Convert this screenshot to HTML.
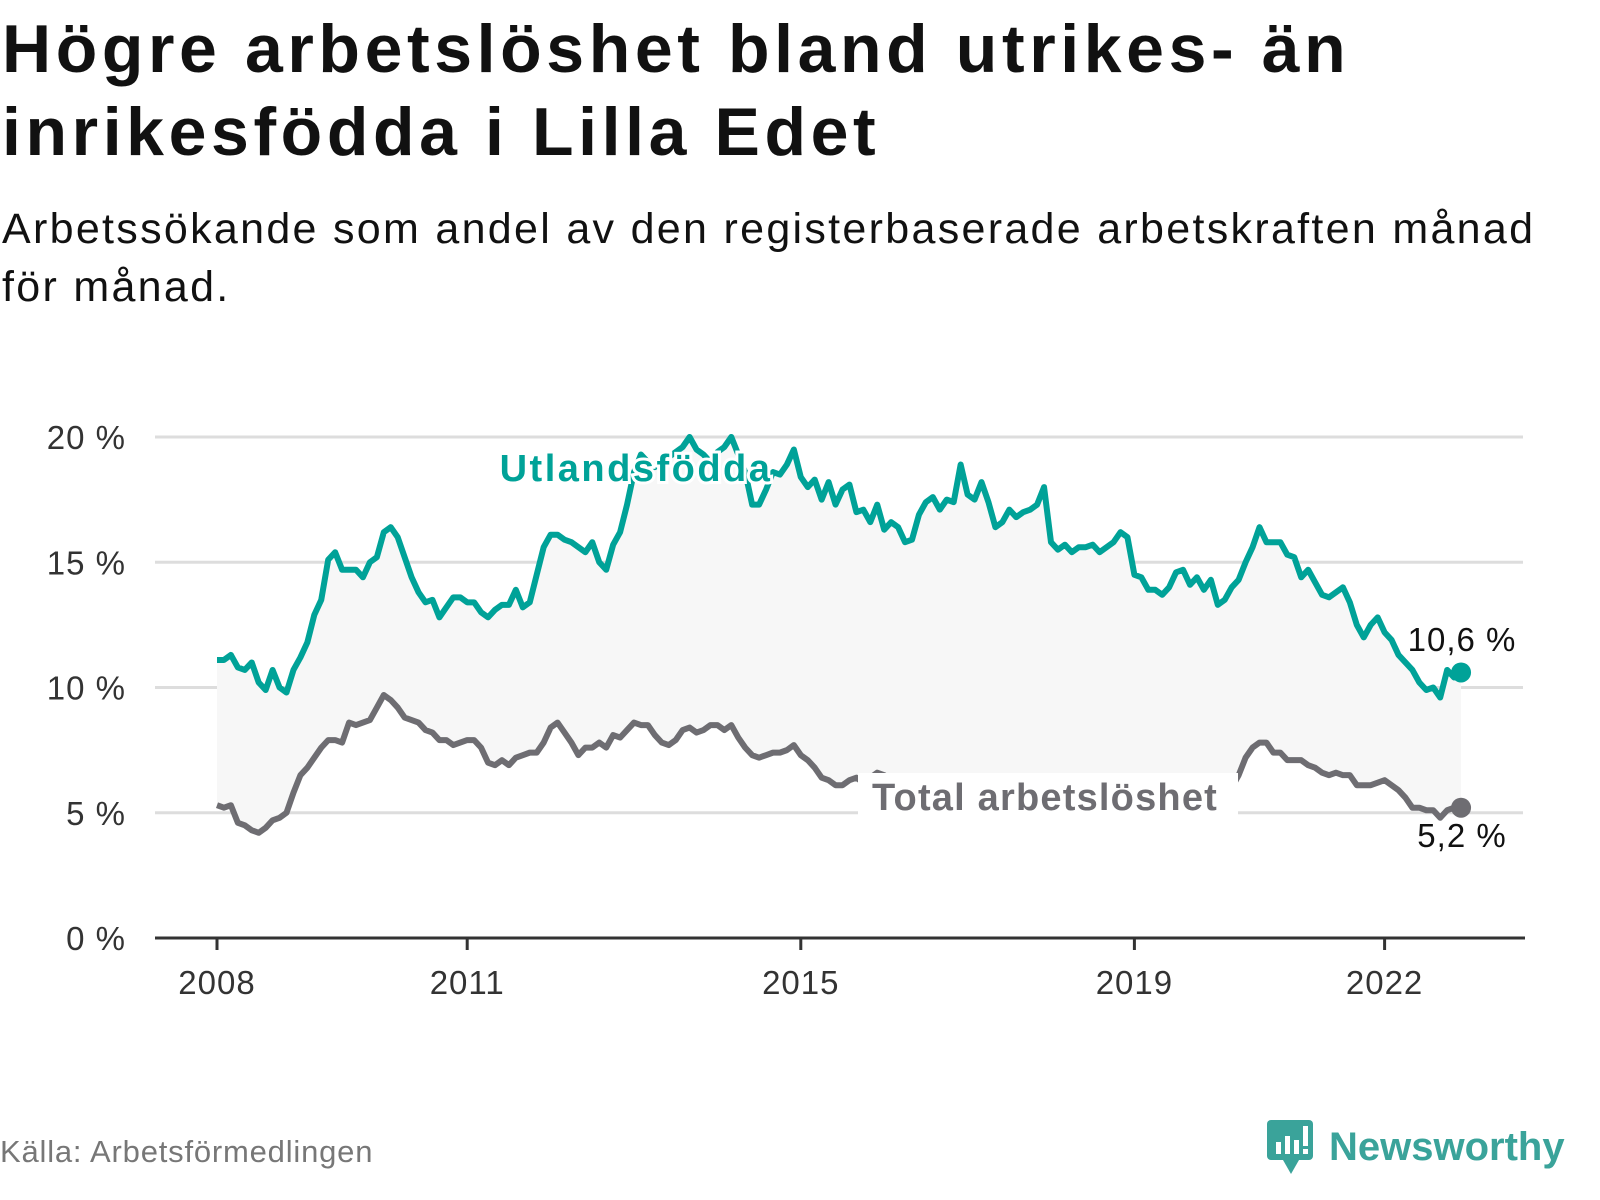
<!DOCTYPE html>
<html><head><meta charset="utf-8">
<style>
body{margin:0;background:#fff;width:1600px;height:1200px;overflow:hidden;font-family:"Liberation Sans",sans-serif;}
#title{position:absolute;left:2px;top:8px;width:1440px;margin:0;font-size:68px;line-height:83px;font-weight:bold;color:#111;letter-spacing:4.6px}
#sub{position:absolute;left:2px;top:200px;width:1560px;margin:0;font-size:43px;line-height:58px;color:#111;letter-spacing:2.3px}
#src{position:absolute;left:0;top:1134px;font-size:31px;color:#777;letter-spacing:0.8px}
#logo{position:absolute;left:1265px;top:1118px;display:flex;align-items:center}
</style></head><body>
<h1 id="title">Högre arbetslöshet bland utrikes- än inrikesfödda i Lilla Edet</h1>
<p id="sub">Arbetssökande som andel av den registerbaserade arbetskraften månad för månad.</p>
<svg id="chart" width="1600" height="1200" style="position:absolute;left:0;top:0"></svg>
<div id="src">Källa: Arbetsförmedlingen</div>
<div id="logo">
<svg width="52" height="58" viewBox="0 0 52 58"><rect x="2" y="2" width="46" height="40" rx="4" fill="#3aa39a"/><polygon points="18,42 34,42 26,56" fill="#3aa39a"/><rect x="11" y="24" width="5" height="12" fill="#fff"/><rect x="20" y="18" width="5" height="18" fill="#fff"/><rect x="29" y="22" width="5" height="14" fill="#fff"/><rect x="38" y="8" width="5" height="20" fill="#fff"/><rect x="38" y="31" width="5" height="5" fill="#fff"/></svg>
<span style="font-size:40px;font-weight:bold;color:#3aa39a;margin-left:12px">Newsworthy</span></div>
<script>
const yTicks=[0,5,10,15,20];
const xTickYears=[2008,2011,2015,2019,2022];
const startYear=2008;
const utland=[11.1,11.1,11.3,10.8,10.7,11.0,10.2,9.9,10.7,10.0,9.8,10.7,11.2,11.8,12.9,13.5,15.1,15.4,14.7,14.7,14.7,14.4,15.0,15.2,16.2,16.4,16.0,15.2,14.4,13.8,13.4,13.5,12.8,13.2,13.6,13.6,13.4,13.4,13.0,12.8,13.1,13.3,13.3,13.9,13.2,13.4,14.5,15.6,16.1,16.1,15.9,15.8,15.6,15.4,15.8,15.0,14.7,15.7,16.2,17.3,18.6,19.3,19.0,18.8,19.0,19.2,19.4,19.6,20.0,19.5,19.3,19.0,19.4,19.6,20.0,19.3,18.6,17.3,17.3,17.9,18.6,18.5,18.9,19.5,18.4,18.0,18.3,17.5,18.2,17.3,17.9,18.1,17.0,17.1,16.6,17.3,16.3,16.6,16.4,15.8,15.9,16.9,17.4,17.6,17.1,17.5,17.4,18.9,17.7,17.5,18.2,17.4,16.4,16.6,17.1,16.8,17.0,17.1,17.3,18.0,15.8,15.5,15.7,15.4,15.6,15.6,15.7,15.4,15.6,15.8,16.2,16.0,14.5,14.4,13.9,13.9,13.7,14.0,14.6,14.7,14.1,14.4,13.9,14.3,13.3,13.5,14.0,14.3,15.0,15.6,16.4,15.8,15.8,15.8,15.3,15.2,14.4,14.7,14.2,13.7,13.6,13.8,14.0,13.4,12.5,12.0,12.5,12.8,12.2,11.9,11.3,11.0,10.7,10.2,9.9,10.0,9.6,10.7,10.4,10.6];
const total=[5.3,5.2,5.3,4.6,4.5,4.3,4.2,4.4,4.7,4.8,5.0,5.8,6.5,6.8,7.2,7.6,7.9,7.9,7.8,8.6,8.5,8.6,8.7,9.2,9.7,9.5,9.2,8.8,8.7,8.6,8.3,8.2,7.9,7.9,7.7,7.8,7.9,7.9,7.6,7.0,6.9,7.1,6.9,7.2,7.3,7.4,7.4,7.8,8.4,8.6,8.2,7.8,7.3,7.6,7.6,7.8,7.6,8.1,8.0,8.3,8.6,8.5,8.5,8.1,7.8,7.7,7.9,8.3,8.4,8.2,8.3,8.5,8.5,8.3,8.5,8.0,7.6,7.3,7.2,7.3,7.4,7.4,7.5,7.7,7.3,7.1,6.8,6.4,6.3,6.1,6.1,6.3,6.4,6.2,6.4,6.6,
6.5,6.3,6.2,6.0,5.9,6.1,6.2,6.0,5.9,5.8,
5.9,6.1,5.9,5.8,5.6,5.5,5.6,5.7,5.6,5.5,
5.4,5.5,5.6,5.8,5.6,5.4,5.3,5.4,5.3,5.1,
5.0,5.1,5.2,5.3,5.2,5.1,5.0,5.0,5.1,5.2,
5.4,5.4,5.3,5.2,5.3,5.4,5.5,5.5,5.6,5.8,
6.0,6.5,7.2,7.6,7.8,7.8,7.4,7.4,7.1,7.1,7.1,6.9,6.8,6.6,6.5,6.6,6.5,6.5,6.1,6.1,6.1,6.2,6.3,6.1,5.9,5.6,5.2,5.2,5.1,5.1,4.8,5.1,5.2,5.2];
const NS="http://www.w3.org/2000/svg";
const svg=document.getElementById('chart');
const X0=217,PX_YEAR=83.4;
function xM(i){return X0+i*PX_YEAR/12;}
function xY(yr){return X0+(yr-startYear)*PX_YEAR;}
function yV(v){return 938-v*25.05;}
function mk(tag,attrs){const e=document.createElementNS(NS,tag);for(const k in attrs)e.setAttribute(k,attrs[k]);svg.appendChild(e);return e;}
yTicks.forEach(t=>{
  if(t>0){const g=mk('line',{x1:155,x2:1523,y1:yV(t),y2:yV(t),stroke:'#dddddd','stroke-width':3});
  
  }
  const tx=mk('text',{x:126,y:yV(t)+12,'text-anchor':'end','font-size':33,'letter-spacing':1,fill:'#333'});
  tx.textContent=t+' %';
  
  
});
let d='M'+utland.map((v,i)=>xM(i)+','+yV(v)).join('L');
for(let i=total.length-1;i>=0;i--)d+='L'+xM(i)+','+yV(total[i]);
const area=mk('path',{d:d+'Z',fill:'#f7f7f7'});


const ax=mk('line',{x1:155,x2:1525,y1:938,y2:938,stroke:'#333','stroke-width':3});


xTickYears.forEach(yr=>{
  const tk=mk('line',{x1:xY(yr),x2:xY(yr),y1:938,y2:950,stroke:'#333','stroke-width':3});
  
  
  const t=mk('text',{x:xY(yr),y:994,'text-anchor':'middle','font-size':33,'letter-spacing':1,fill:'#333'});
  t.textContent=yr;
  
  
});
function line(arr,col,name){
  const p=mk('path',{d:'M'+arr.map((v,i)=>xM(i)+','+yV(v)).join('L'),fill:'none',stroke:col,'stroke-width':6,'stroke-linejoin':'round'});
  
  
  const n=arr.length-1;
  const c=mk('circle',{cx:xM(n),cy:yV(arr[n]),r:10,fill:col});
  
  
}
line(total,'#6e6d72','total-line');
line(utland,'#00a298','utlandsfodda-line');
const l1=mk('text',{x:636,y:481,'text-anchor':'middle','font-size':38,'font-weight':'bold','letter-spacing':2.5,fill:'#00a298',stroke:'#fff','stroke-width':6,'paint-order':'stroke'});
l1.textContent='Utlandsfödda';


const bg=mk('rect',{x:858,y:773,width:380,height:44,fill:'#fff'});


const l2=mk('text',{x:1045,y:810,'text-anchor':'middle','font-size':38,'font-weight':'bold','letter-spacing':1.2,fill:'#6e6d72'});
l2.textContent='Total arbetslöshet';


const v1=mk('text',{x:1462,y:651,'text-anchor':'middle','font-size':33,'letter-spacing':1,fill:'#111'});
v1.textContent=String(utland[utland.length-1]).replace('.',',')+' %';


const v2=mk('text',{x:1462,y:847,'text-anchor':'middle','font-size':33,'letter-spacing':1,fill:'#111'});
v2.textContent=String(total[total.length-1]).replace('.',',')+' %';


</script>
</body></html>
